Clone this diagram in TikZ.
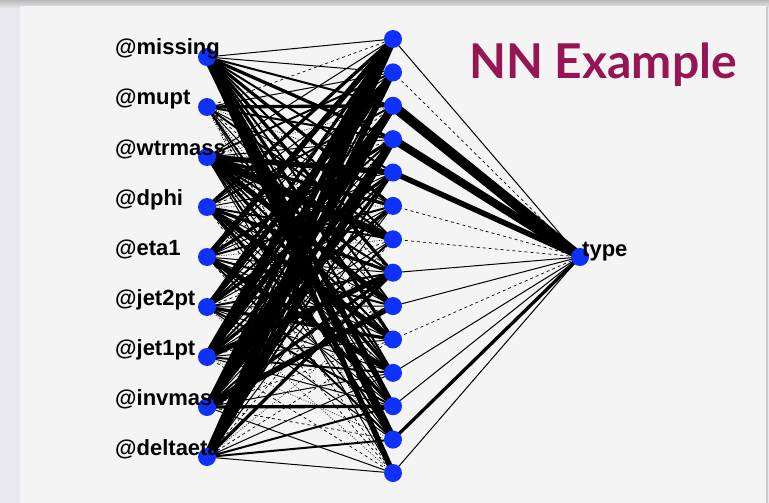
\documentclass[tikz,border=0pt]{standalone}
\usepackage{fontspec}
\setmainfont{Liberation Sans}
\newfontfamily\titlefont{Lato}
\definecolor{nodeblue}{RGB}{15,50,250}
\definecolor{titlecol}{RGB}{150,22,82}
\definecolor{panelgray}{RGB}{244,244,244}
\definecolor{outergray}{RGB}{232,232,238}
\pgfdeclarelayer{bg}
\pgfdeclarelayer{edges}
\pgfsetlayers{bg,edges,main}
\tikzset{
  neuron/.style={circle,fill=nodeblue,draw=none,minimum size=18pt,inner sep=0pt},
  lab/.style={anchor=base west,inner sep=0pt,font=\fontsize{22}{22}\selectfont\bfseries},
  e0/.style={line width=0.7pt,dash pattern=on 0.8pt off 1.6pt},
  e1/.style={line width=0.7pt,dash pattern=on 3pt off 3pt},
  e2/.style={line width=1pt},
  e3/.style={line width=2pt},
  e4/.style={line width=3.3pt},
  e5/.style={line width=5.5pt},
  e6/.style={line width=8pt},
  e7/.style={line width=10pt},
  o6/.style={line width=8pt},
  o2/.style={line width=0.9pt},
}
\begin{document}
\begin{tikzpicture}[x=1pt,y=-1pt]
\useasboundingbox (0,0) rectangle (769,503);
\begin{pgfonlayer}{bg}
  \fill[outergray] (0,0) rectangle (769,503);
  \shade[top color=gray!55,bottom color=outergray] (0,0) rectangle (769,8);
  \fill[gray!40] (21,7) rectangle (768,503);
  \fill[panelgray] (20,6) rectangle (766,503);
\end{pgfonlayer}
% input layer
\foreach \n [count=\i] in {missing,mupt,wtrmass,dphi,eta1,jet2pt,jet1pt,invmass,deltaeta}{
  \node[neuron] (i\i) at (207,{57+50*(\i-1)}) {};
}
% hidden layer
\foreach \j in {1,...,14}{
  \node[neuron] (h\j) at (393,{39+33.385*(\j-1)}) {};
}
% output
\node[neuron] (o) at (580,257) {};
% edges input -> hidden
\begin{pgfonlayer}{edges}
\foreach \i/\codes in {
  1/{2,2,3,4,3,4,3,4,3,4,3,5,6,5},
  2/{1,2,4,3,0,2,3,1,2,0,3,2,1,0},
  3/{2,3,0,2,5,4,6,3,5,3,4,2,3,2},
  4/{4,2,3,1,2,0,3,4,2,5,2,4,2,1},
  5/{5,2,1,4,2,3,0,2,3,2,5,2,3,1},
  6/{4,5,2,3,4,2,1,3,2,4,2,3,2,0},
  7/{6,4,5,2,3,4,2,5,1,2,3,2,0,1},
  8/{5,3,6,5,4,2,3,4,5,1,2,4,1,2},
  9/{6,5,4,6,3,2,1,4,0,1,2,3,3,2}}{
  \foreach \c [count=\j] in \codes {
    \draw[e\c] (i\i.center) -- (h\j.center);
  }
}
\foreach \c [count=\j] in {2,1,7,6,5,1,1,2,2,1,2,2,4,2}{
  \draw[e\c] (h\j.center) -- (o.center);
}
\end{pgfonlayer}
% labels
\foreach \n [count=\i] in {missing,mupt,wtrmass,dphi,eta1,jet2pt,jet1pt,invmass,deltaeta}{
  \node[lab] (l\i) at (115,{55+50*(\i-1)}) {@\n};
}
\node[lab] (lo) at (582,256) {type};
\node[anchor=base west,inner sep=0pt,text=titlecol,font=\titlefont\fontsize{48}{48}\selectfont\bfseries] (title) at (469,79) {NN Example};
\end{tikzpicture}
\end{document}
